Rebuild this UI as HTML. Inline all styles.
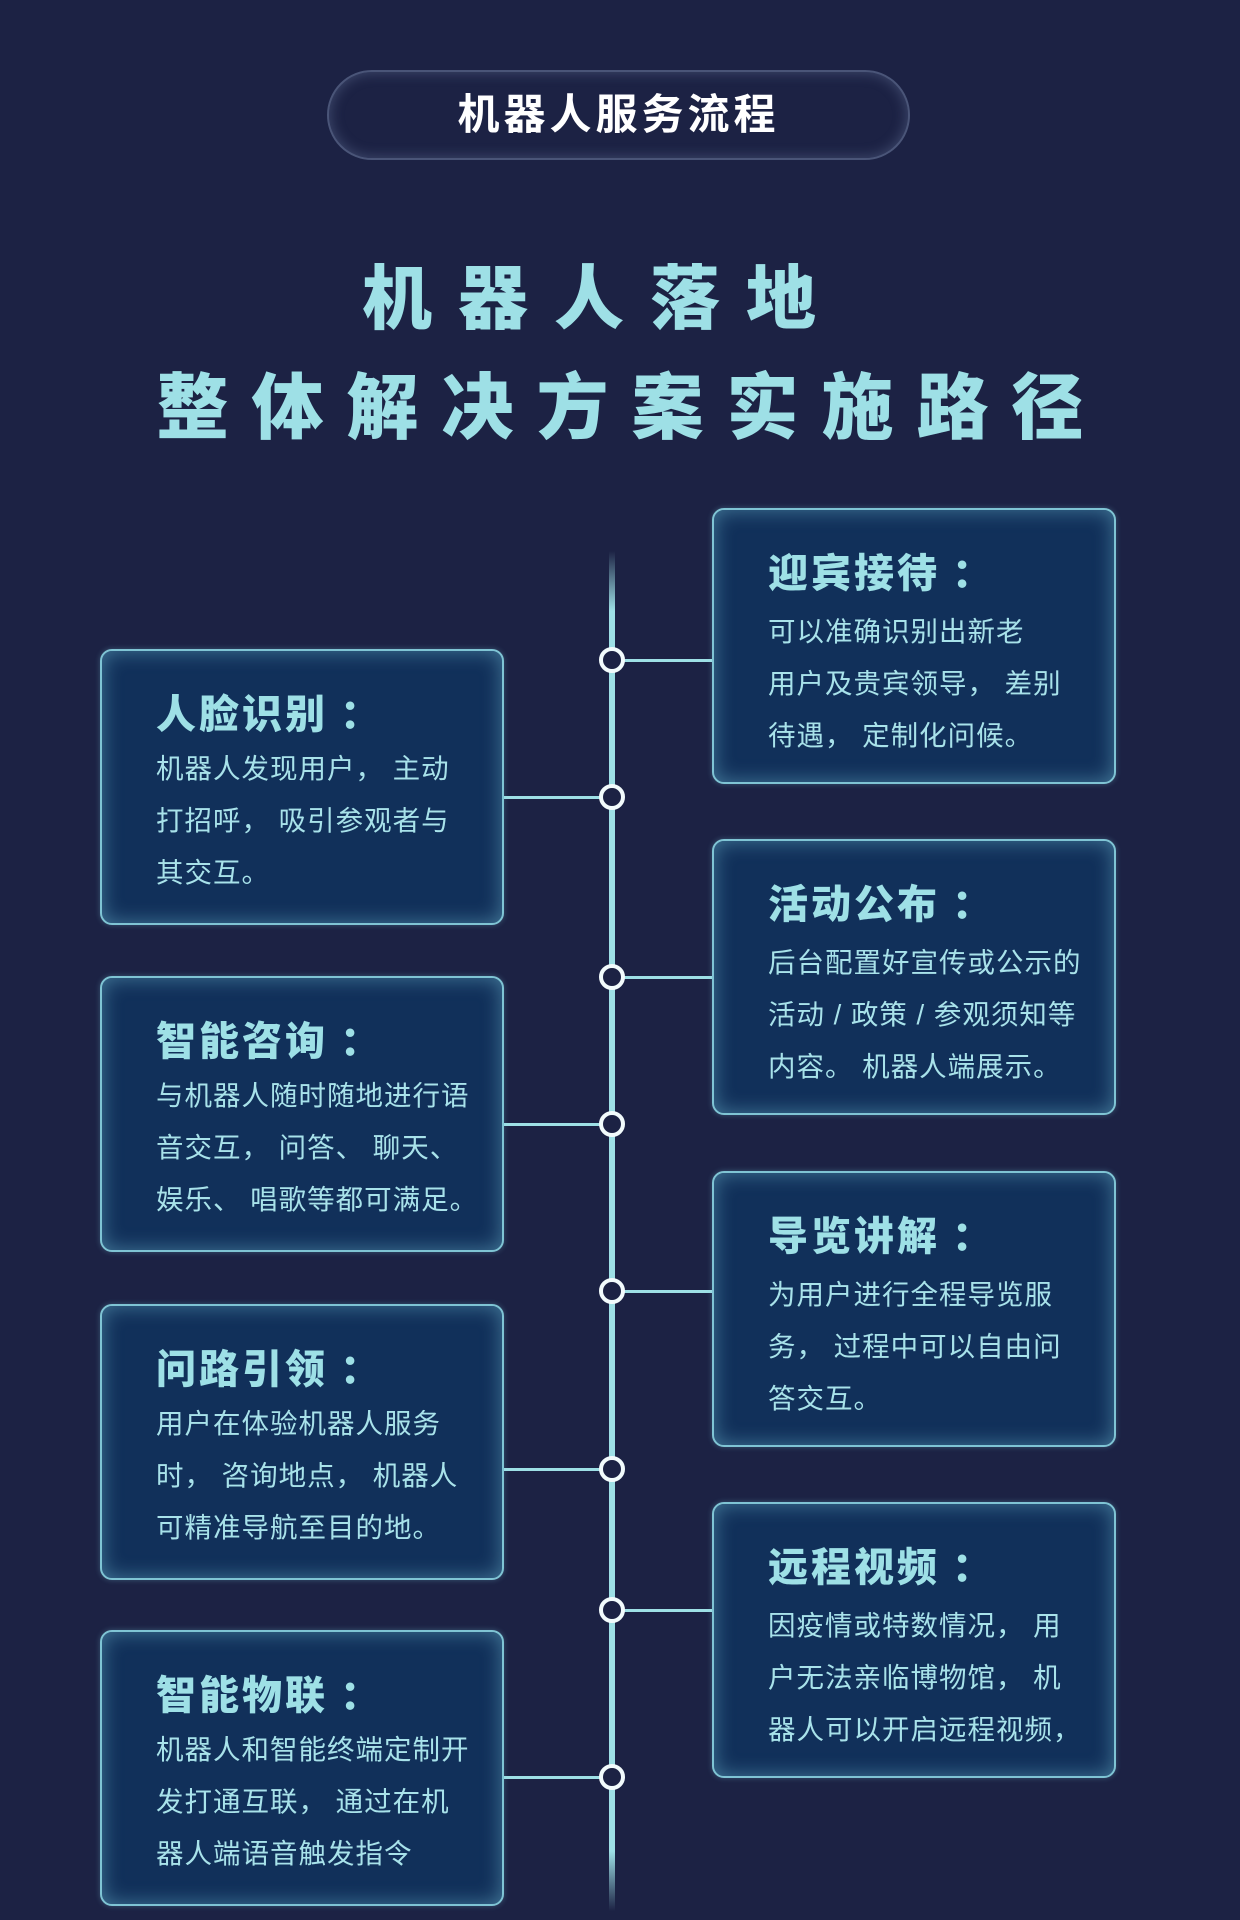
<!DOCTYPE html>
<html><head><meta charset="utf-8"><style>
html,body{margin:0;padding:0}
body{width:1240px;height:1920px;background:#1c2244;position:relative;overflow:hidden;font-family:"Liberation Sans","Noto Sans CJK SC",sans-serif}
.pill{position:absolute;left:327px;top:70px;width:583px;height:90px;border-radius:45px;border:2px solid #4a5578;box-shadow:inset 0 0 14px rgba(140,160,200,.35);box-sizing:border-box;color:#fff;font-size:42px;text-align:center;line-height:86px;letter-spacing:4px;font-weight:bold}
.t{position:absolute;left:0;width:1240px;text-align:center;color:#9ee0e6;font-weight:900;font-family:"Noto Sans CJK SC",sans-serif}
.line{position:absolute;left:609px;top:551px;width:6px;height:1360px;background:linear-gradient(#1c2244,#9ee0e6 60px,#9ee0e6 1300px,#1c2244)}
.c{position:absolute;width:18px;height:18px;border:4px solid #f2fbfc;border-radius:50%;background:#1c2244;left:599px}
.h{position:absolute;height:3px;background:#9ee0e6}
.box{position:absolute;width:404px;height:276px;border:2px solid #7fc4d4;border-radius:12px;background:#11305a;box-shadow:inset 0 0 20px rgba(130,210,230,.45),0 0 6px rgba(130,210,230,.3);box-sizing:border-box;color:#9ee0e6}
.box b{position:absolute;left:54px;top:31px;font-size:40px;letter-spacing:3px;font-family:"Noto Sans CJK SC",sans-serif;font-weight:900;white-space:nowrap}
.box p{position:absolute;left:54px;top:96px;margin:0;font-size:27.5px;line-height:52px;letter-spacing:1px;width:345px;color:#a8e2ea;white-space:nowrap}
</style></head><body>
<div class="pill">机器人服务流程</div>
<div class="t" style="top:243px;font-size:70px;letter-spacing:26px;left:-18px">机器人落地</div>
<div class="t" style="top:349px;font-size:72px;letter-spacing:23px;text-indent:23px">整体解决方案实施路径</div>
<div class="line"></div>

<div class="h" style="left:612px;width:100px;top:659px"></div>
<div class="h" style="left:504px;width:108px;top:796px"></div>
<div class="h" style="left:612px;width:100px;top:976px"></div>
<div class="h" style="left:504px;width:108px;top:1123px"></div>
<div class="h" style="left:612px;width:100px;top:1290px"></div>
<div class="h" style="left:504px;width:108px;top:1468px"></div>
<div class="h" style="left:612px;width:100px;top:1609px"></div>
<div class="h" style="left:504px;width:108px;top:1776px"></div>

<div class="c" style="top:647px"></div>
<div class="c" style="top:784px"></div>
<div class="c" style="top:964px"></div>
<div class="c" style="top:1111px"></div>
<div class="c" style="top:1278px"></div>
<div class="c" style="top:1456px"></div>
<div class="c" style="top:1597px"></div>
<div class="c" style="top:1764px"></div>

<div class="box" style="left:712px;top:508px"><b>迎宾接待 ：</b><p>可以准确识别出新老<br>用户及贵宾领导， 差别<br>待遇， 定制化问候。</p></div>
<div class="box" style="left:712px;top:839px"><b>活动公布 ：</b><p>后台配置好宣传或公示的<br>活动 / 政策 / 参观须知等<br>内容。 机器人端展示。</p></div>
<div class="box" style="left:712px;top:1171px"><b>导览讲解 ：</b><p>为用户进行全程导览服<br>务， 过程中可以自由问<br>答交互。</p></div>
<div class="box" style="left:712px;top:1502px"><b>远程视频 ：</b><p>因疫情或特数情况， 用<br>户无法亲临博物馆， 机<br>器人可以开启远程视频，</p></div>

<div class="box" style="left:100px;top:649px"><b>人脸识别 ：</b><p style="top:92px">机器人发现用户， 主动<br>打招呼， 吸引参观者与<br>其交互。</p></div>
<div class="box" style="left:100px;top:976px"><b>智能咨询 ：</b><p style="top:92px">与机器人随时随地进行语<br>音交互， 问答、 聊天、<br>娱乐、 唱歌等都可满足。</p></div>
<div class="box" style="left:100px;top:1304px"><b>问路引领 ：</b><p style="top:92px">用户在体验机器人服务<br>时， 咨询地点， 机器人<br>可精准导航至目的地。</p></div>
<div class="box" style="left:100px;top:1630px"><b>智能物联 ：</b><p style="top:92px">机器人和智能终端定制开<br>发打通互联， 通过在机<br>器人端语音触发指令</p></div>
</body></html>
